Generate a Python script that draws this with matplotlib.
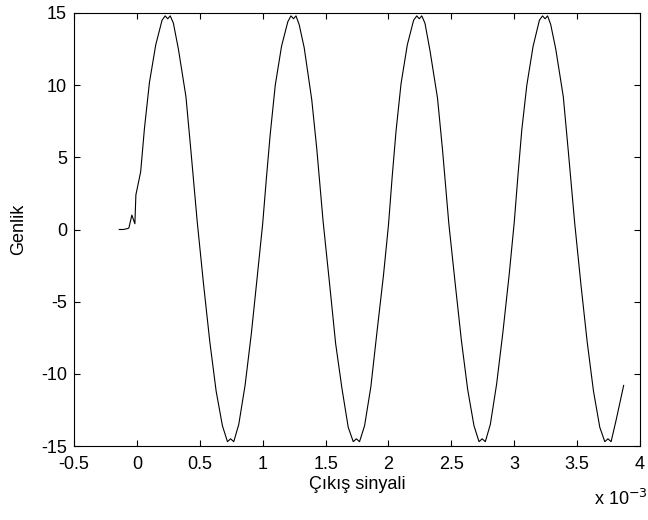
import matplotlib
matplotlib.use("Agg")
import matplotlib.pyplot as plt

# zaman (x 10^-3 s) ve genlik degerleri
t_ms = [-0.14, -0.11, -0.08, -0.064, -0.04, -0.016, -0.008, 0.03, 0.06, 0.10, 0.15,
        0.20, 0.225, 0.245, 0.265, 0.29, 0.33, 0.39, 0.43, 0.48, 0.53, 0.58,
        0.63, 0.68, 0.72, 0.745, 0.77, 0.81, 0.86, 0.91, 0.96,
        1.00, 1.03, 1.06, 1.10, 1.15, 1.20, 1.225, 1.245, 1.265, 1.29, 1.33,
        1.39, 1.43, 1.48, 1.53, 1.58, 1.63, 1.68, 1.72, 1.745, 1.77, 1.81,
        1.86, 1.91, 1.96,
        2.00, 2.03, 2.06, 2.10, 2.15, 2.20, 2.225, 2.245, 2.265, 2.29, 2.33,
        2.39, 2.43, 2.48, 2.53, 2.58, 2.63, 2.68, 2.72, 2.745, 2.77, 2.81,
        2.86, 2.91, 2.96,
        3.00, 3.03, 3.06, 3.10, 3.15, 3.20, 3.225, 3.245, 3.265, 3.29, 3.33,
        3.39, 3.43, 3.48, 3.53, 3.58, 3.63, 3.68, 3.72, 3.745, 3.77, 3.81,
        3.84, 3.87]
genlik = [0.0, 0.0, 0.05, 0.1, 1.0, 0.4, 2.4, 4.0, 7.0, 10.2, 12.8,
          14.5, 14.8, 14.6, 14.8, 14.3, 12.5, 9.2, 5.4, 0.5, -3.8, -7.8,
          -11.2, -13.6, -14.7, -14.5, -14.7, -13.5, -10.8, -7.2, -3.0,
          0.4, 3.6, 6.6, 10.0, 12.7, 14.4, 14.8, 14.6, 14.8, 14.2, 12.6,
          9.0, 5.6, 0.6, -3.6, -7.9, -11.0, -13.7, -14.7, -14.5, -14.7, -13.6,
          -10.9, -7.0, -3.2,
          0.3, 3.7, 6.8, 10.1, 12.8, 14.5, 14.8, 14.6, 14.8, 14.3, 12.4,
          9.1, 5.5, 0.4, -3.7, -7.7, -11.1, -13.6, -14.7, -14.5, -14.7, -13.5,
          -10.7, -7.1, -3.1,
          0.5, 3.8, 6.9, 10.0, 12.7, 14.5, 14.8, 14.6, 14.8, 14.2, 12.5,
          9.2, 5.4, 0.5, -3.8, -7.8, -11.2, -13.7, -14.7, -14.5, -14.7, -13.2,
          -12.0, -10.8]

xticks = [-0.5, 0, 0.5, 1, 1.5, 2, 2.5, 3, 3.5, 4]
xticklabels = ["-0.5", "0", "0.5", "1", "1.5", "2", "2.5", "3", "3.5", "4"]
yticks = [-15, -10, -5, 0, 5, 10, 15]
yticklabels = ["-15", "-10", "-5", "0", "5", "10", "15"]

plt.rcParams['font.family'] = ['Liberation Sans', 'DejaVu Sans']
plt.rcParams['font.size'] = 13
plt.rcParams['axes.unicode_minus'] = False

fig = plt.figure(figsize=(6.48, 5.2), dpi=100)
ax = fig.add_axes([0.1142, 0.1423, 0.8735, 0.8327])
ax.plot(t_ms, genlik, color='black', linewidth=0.8)

ax.set_xlim(-0.5, 4)
ax.set_ylim(-15, 15)
ax.set_xticks(xticks)
ax.set_xticklabels(xticklabels)
ax.set_yticks(yticks)
ax.set_yticklabels(yticklabels)
ax.tick_params(direction='in', top=True, right=True, length=4, width=0.8)
ax.tick_params(axis='x', pad=7)
ax.tick_params(axis='y', pad=5)
for s in ax.spines.values():
    s.set_linewidth(0.8)

ax.set_xlabel("Çıkış sinyali", labelpad=2)
ax.set_ylabel("Genlik", labelpad=10)
fig.text(0.958, 0.022, r"x 10$^{-3}$", ha='center', va='bottom', fontsize=13)

fig.savefig("out.png", dpi=100)
